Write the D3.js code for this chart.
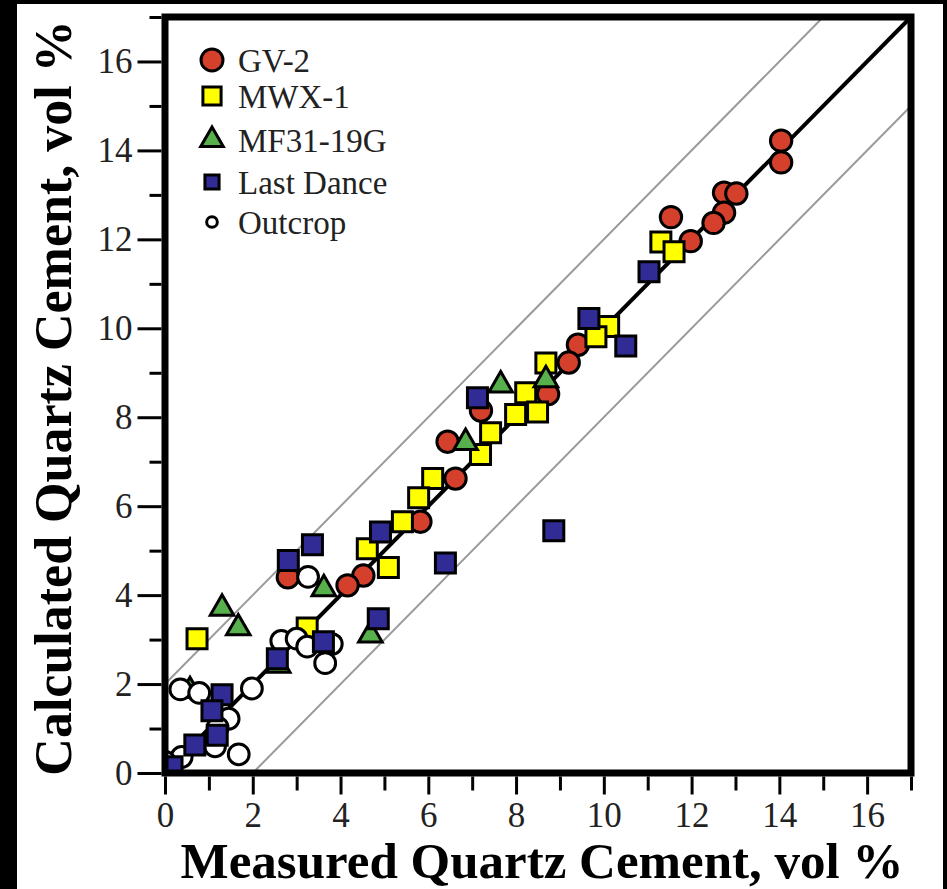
<!DOCTYPE html>
<html>
<head>
<meta charset="utf-8">
<script src="https://cdn.jsdelivr.net/npm/d3@7"></script>
<style>
  body { margin: 0; background: #000; }
  svg { display: block; }
  .tick text { font-family: "Liberation Serif", "Times New Roman", serif; font-size: 35px; fill: #222; }
  .tick line { stroke: #000; stroke-width: 3; }
</style>
</head>
<body>
<svg width="947" height="889"></svg>
<script>
// measured (x) and calculated (y) quartz cement, vol %
var gv2X = [14.04, 14.04, 12.74, 13.02, 12.74, 12.5, 11.98, 11.53, 9.41, 9.2, 8.73, 7.2, 6.44, 6.62, 5.82, 4.52, 4.16, 2.8];
var gv2Y = [14.22, 13.73, 13.05, 13.03, 12.6, 12.37, 11.96, 12.5, 9.63, 9.23, 8.52, 8.15, 7.45, 6.62, 5.65, 4.44, 4.22, 4.4];

var mwxX = [11.3, 11.6, 10.11, 9.82, 8.68, 8.22, 8.49, 7.99, 7.42, 7.19, 6.1, 5.78, 5.41, 4.61, 5.09, 3.24, 0.73];
var mwxY = [11.94, 11.72, 10.04, 9.81, 9.22, 8.55, 8.12, 8.06, 7.65, 7.16, 6.62, 6.19, 5.65, 5.04, 4.62, 3.26, 3.02];

var mfX = [8.68, 7.65, 6.85, 3.62, 1.3, 1.67, 4.68, 2.58, 0.57];
var mfY = [8.84, 8.72, 7.43, 4.14, 3.7, 3.26, 3.1, 2.42, 1.85];

var outX = [3.26, 2.65, 3.0, 3.24, 3.8, 3.65, 1.98, 0.35, 0.78, 1.45, 1.14, 1.68, 0.38, 0.0, 1.2];
var outY = [4.41, 2.97, 3.02, 2.84, 2.9, 2.47, 1.9, 1.88, 1.8, 1.22, 0.6, 0.42, 0.36, 0.25, 1.02];

var ldX = [11.03, 9.66, 10.5, 7.12, 4.91, 3.36, 6.39, 8.86, 2.81, 4.86, 3.61, 2.56, 1.3, 1.07, 1.19, 0.68, 0.16];
var ldY = [11.27, 10.22, 9.6, 8.44, 5.42, 5.13, 4.72, 5.45, 4.78, 3.47, 2.95, 2.57, 1.76, 1.4, 0.85, 0.63, 0.14];

var majorTicks = [0, 2, 4, 6, 8, 10, 12, 14, 16];
var minorTicks = [1, 3, 5, 7, 9, 11, 13, 15, 17];

var svg = d3.select("svg");

// white page inside the black edge
svg.append("rect").attr("x", 17).attr("y", 4).attr("width", 926).attr("height", 885).attr("fill", "#fff");

var x = d3.scaleLinear().domain([0, 17]).range([165, 911]),
    y = d3.scaleLinear().domain([0, 17]).range([773, 17]);

function zip(xs, ys) {
  return xs.map(function(v, i) { return {x: v, y: ys[i]}; });
}

var series = [
  {name: "GV-2", data: zip(gv2X, gv2Y), type: d3.symbolCircle, size: 360, fill: "#d4402c", lsize: 380},
  {name: "MWX-1", data: zip(mwxX, mwxY), type: d3.symbolSquare, size: 400, fill: "#ffff00", lsize: 330},
  {name: "MF31-19G", data: zip(mfX, mfY), type: d3.symbolTriangle, size: 240, fill: "#58b04c", lsize: 220},
  {name: "Outcrop", data: zip(outX, outY), type: d3.symbolCircle, size: 340, fill: "#fff", lsize: 90},
  {name: "Last Dance", data: zip(ldX, ldY), type: d3.symbolSquare, size: 400, fill: "#302b95", lsize: 200}
];
var legendOrder = ["GV-2", "MWX-1", "MF31-19G", "Last Dance", "Outcrop"];

var plot = svg.append("g");
plot.append("clipPath").attr("id", "clip")
  .append("rect").attr("x", x(0)).attr("y", y(17)).attr("width", x(17) - x(0)).attr("height", y(0) - y(17));

// +/- 2 vol % envelope and 1:1 line
var line = d3.line().x(function(d) { return x(d[0]); }).y(function(d) { return y(d[1]); });
plot.append("path").datum([[0, 2], [15, 17]]).attr("d", line)
  .attr("stroke", "#9a9a9a").attr("stroke-width", 2).attr("fill", "none");
plot.append("path").datum([[2, 0], [17, 15]]).attr("d", line)
  .attr("stroke", "#9a9a9a").attr("stroke-width", 2).attr("fill", "none");
plot.append("path").datum([[0, 0], [17, 17]]).attr("d", line)
  .attr("stroke", "#000").attr("stroke-width", 4).attr("fill", "none");

// points
series.forEach(function(s) {
  plot.append("g").attr("clip-path", "url(#clip)")
    .selectAll("path")
    .data(s.data)
    .enter().append("path")
    .attr("transform", function(d) { return "translate(" + x(d.x) + "," + y(d.y) + ")"; })
    .attr("d", d3.symbol().type(s.type).size(s.size))
    .attr("fill", s.fill)
    .attr("stroke", "#000")
    .attr("stroke-width", 3);
});

// frame
svg.append("rect")
  .attr("x", x(0)).attr("y", y(17))
  .attr("width", x(17) - x(0)).attr("height", y(0) - y(17))
  .attr("fill", "none").attr("stroke", "#000").attr("stroke-width", 7);

// axes
svg.append("g").attr("transform", "translate(161.5,0)")
  .call(d3.axisLeft(y).tickValues(majorTicks).tickSize(24).tickPadding(5).tickFormat(d3.format("d")));
svg.append("g").attr("transform", "translate(161.5,0)")
  .call(d3.axisLeft(y).tickValues(minorTicks).tickSize(12).tickFormat(""));
svg.append("g").attr("transform", "translate(0,776.5)")
  .call(d3.axisBottom(x).tickValues(majorTicks).tickSize(18).tickPadding(8).tickFormat(d3.format("d")));
svg.append("g").attr("transform", "translate(0,776.5)")
  .call(d3.axisBottom(x).tickValues(minorTicks).tickSize(14).tickFormat(""));
svg.selectAll(".domain").remove();

// legend
var legend = svg.append("g").attr("transform", "translate(212,60)");
legendOrder.forEach(function(name, i) {
  var s = series.filter(function(d) { return d.name === name; })[0];
  var row = legend.append("g").attr("transform", "translate(0," + [0, 36, 80, 122, 162][i] + ")");
  row.append("path")
    .attr("d", d3.symbol().type(s.type).size(s.lsize))
    .attr("fill", s.fill).attr("stroke", "#000").attr("stroke-width", 3);
  row.append("text")
    .attr("x", 26).attr("y", 12)
    .style("font-family", "'Liberation Serif', 'Times New Roman', serif")
    .style("font-size", "33px")
    .attr("fill", "#222")
    .text(name);
});

// axis titles
svg.append("text")
  .attr("x", (x(0) + x(17)) / 2 + 4).attr("y", 878)
  .attr("text-anchor", "middle")
  .style("font-family", "'Liberation Serif', 'Times New Roman', serif")
  .style("font-size", "51px").style("font-weight", "bold")
  .text("Measured Quartz Cement, vol %");

svg.append("text")
  .attr("transform", "translate(71," + 398 + ") rotate(-90)")
  .attr("text-anchor", "middle")
  .style("font-family", "'Liberation Serif', 'Times New Roman', serif")
  .style("font-size", "52px").style("font-weight", "bold")
  .text("Calculated Quartz Cement, vol %");
</script>
</body>
</html>
